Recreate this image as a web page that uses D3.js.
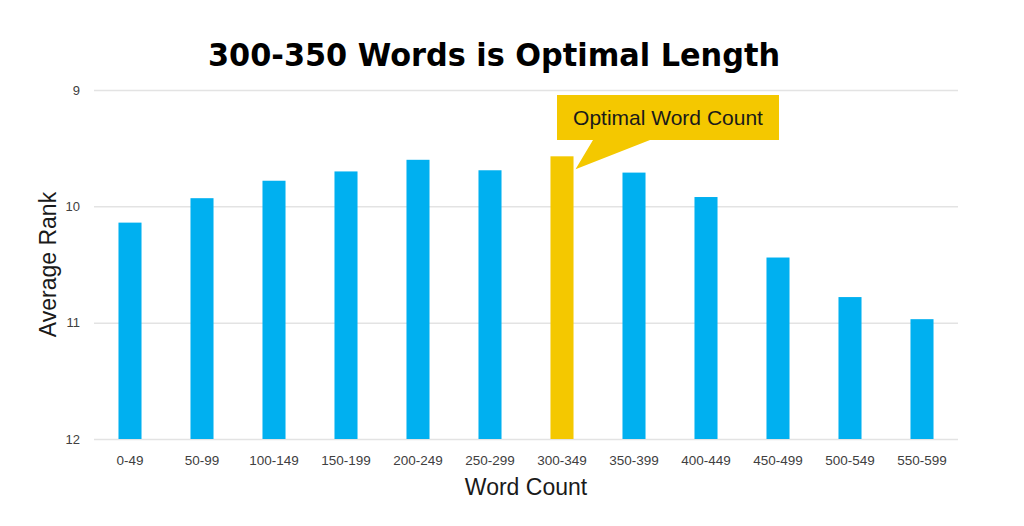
<!DOCTYPE html>
<html>
<head>
<meta charset="utf-8">
<script src="https://cdn.jsdelivr.net/npm/d3@7"></script>
<style>
  body { margin: 0; background: white; }
  text { font-family: "Liberation Sans", Arial, sans-serif; }
</style>
</head>
<body>
<script>
// data
let categories = ["0-49", "50-99", "100-149", "150-199", "200-249", "250-299",
                  "300-349", "350-399", "400-449", "450-499", "500-549", "550-599"]
let avgRank = [10.14, 9.93, 9.78, 9.70, 9.60, 9.69, 9.57, 9.71, 9.92, 10.44, 10.78, 10.97]
let rankTicks = [9, 10, 11, 12]
let optimal = "300-349"

let W = 1024, H = 526
let plotLeft = 94, plotRight = 958, plotTop = 90, plotBottom = 439

let svg = d3.select("body")
  .append("svg")
    .attr("width", W)
    .attr("height", H)

let x = d3.scaleBand()
  .domain(categories)
  .range([plotLeft, plotRight])
  .paddingInner(0.68)
  .paddingOuter(0.34)

// rank axis is reversed: 9 on top
let y = d3.scaleLinear()
  .domain([9, 12])
  .range([plotTop, plotBottom])

// gridlines + y labels
let yAxis = svg.append("g")
  .attr("transform", `translate(${plotLeft},0)`)
  .call(d3.axisLeft(y).tickValues(rankTicks).tickSize(-(plotRight - plotLeft)).tickPadding(14).tickFormat(d3.format("d")))
yAxis.select(".domain").remove()
yAxis.selectAll("line").attr("stroke", "#e3e3e3").attr("stroke-width", 1.5)
yAxis.selectAll("text")
  .attr("fill", "#404040")
  .style("font-size", "13px")
  .style("font-family", "Liberation Sans, Arial, sans-serif")

// x labels
let xAxis = svg.append("g")
  .attr("transform", `translate(0,${plotBottom})`)
  .call(d3.axisBottom(x).tickSize(0).tickPadding(16))
xAxis.select(".domain").remove()
xAxis.selectAll("text")
  .attr("fill", "#404040")
  .style("font-size", "13.5px")
  .style("font-family", "Liberation Sans, Arial, sans-serif")

// bars
svg.append("g")
  .selectAll("rect")
  .data(categories)
  .join("rect")
    .attr("x", d => x(d))
    .attr("width", x.bandwidth())
    .attr("y", (d, i) => y(avgRank[i]))
    .attr("height", (d, i) => y(12) - y(avgRank[i]))
    .attr("fill", d => d == optimal ? "#F4C800" : "#00B0F0")

// callout
let oi = categories.indexOf(optimal)
let tipX = x(optimal) + x.bandwidth() + 2
let tipY = y(avgRank[oi]) + 13
let bx = 557, by = 95, bw = 222, bh = 45
svg.append("path")
  .attr("d", `M${bx},${by} H${bx + bw} V${by + bh} H${bx + 93} L${tipX},${tipY} L${bx + 36},${by + bh} H${bx} Z`)
  .attr("fill", "#F4C800")
svg.append("text")
  .attr("x", bx + bw / 2)
  .attr("y", by + bh / 2 + 7)
  .attr("text-anchor", "middle")
  .attr("fill", "#1a1a1a")
  .style("font-size", "21px")
  .text("Optimal Word Count")

// titles
svg.append("text")
  .attr("x", 494)
  .attr("y", 66)
  .attr("text-anchor", "middle")
  .attr("textLength", 572)
  .attr("lengthAdjust", "spacingAndGlyphs")
  .style("font-family", "DejaVu Sans, sans-serif")
  .style("font-weight", "bold")
  .style("font-size", "32px")
  .text("300-350 Words is Optimal Length")

svg.append("text")
  .attr("x", (plotLeft + plotRight) / 2)
  .attr("y", 495)
  .attr("text-anchor", "middle")
  .attr("fill", "#1a1a1a")
  .style("font-size", "23px")
  .text("Word Count")

svg.append("text")
  .attr("transform", `translate(56,${(plotTop + plotBottom) / 2}) rotate(-90)`)
  .attr("text-anchor", "middle")
  .attr("fill", "#1a1a1a")
  .style("font-size", "23px")
  .text("Average Rank")
</script>
</body>
</html>
